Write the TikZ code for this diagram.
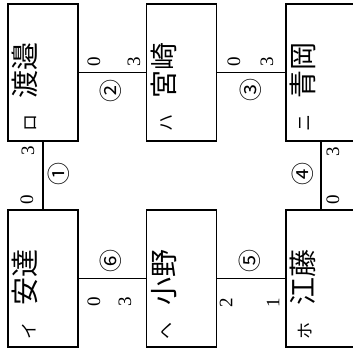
\documentclass[tikz,border=0pt]{standalone}
\usepackage{fontspec}
\setmainfont{Liberation Serif}
\newfontfamily\jp{Noto Sans CJK JP}
\begin{document}
\begin{tikzpicture}[x=1pt,y=-1pt,
  box/.style={draw, line width=1.5pt, minimum width=70pt, minimum height=137pt, inner sep=0pt},
  link/.style={line width=1.5pt},
  kanji/.style={rotate=90, font=\jp\fontsize{28}{28}\selectfont, inner sep=0pt},
  kana/.style={rotate=90, font=\jp\fontsize{17}{17}\selectfont, inner sep=0pt},
  num/.style={rotate=90, font=\fontsize{19}{19}\selectfont, inner sep=0pt},
  circ/.style={rotate=90, font=\jp\fontsize{23}{23}\selectfont, inner sep=0pt}]
\useasboundingbox (0,0) rectangle (353,349);
\clip (0,0) rectangle (353,349);
% boxes
\node[box] (bRo) at (43,72.5) {};
\node[box] (bHa) at (181.5,72.5) {};
\node[box] (bNi) at (321,72.5) {};
\node[box] (bI) at (43,278.5) {};
\node[box] (bHe) at (181.5,278.5) {};
\node[box] (bHo) at (321,278.5) {};
% connectors
\draw[link] (bRo.south) -- (bI.north);
\draw[link] (bRo.east) -- (bHa.west);
\draw[link] (bHa.east) -- (bNi.west);
\draw[link] (bNi.south) -- (bHo.north);
\draw[link] (bI.east) -- (bHe.west);
\draw[link] (bHe.east) -- (bHo.west);
% names
\node[kanji] (tRo) at (25,70) {渡邉};
\node[kanji] (tHa) at (164,70) {宮崎};
\node[kanji] (tNi) at (303,70) {青岡};
\node[kanji] (tI) at (25,277) {安達};
\node[kanji] (tHe) at (164,277) {小野};
\node[kanji] (tHo) at (303,277) {江藤};
\node[kana] (kRo) at (31,123) {ロ};
\node[kana] (kHa) at (167,123) {ハ};
\node[kana] (kNi) at (305,123) {ニ};
\node[kana] (kI) at (29,331) {イ};
\node[kana] (kHe) at (167,331) {ヘ};
\node[kana] (kHo) at (305,331) {ホ};
% circled numbers
\node[circ] (c1) at (59,174) {①};
\node[circ] (c2) at (111,91) {②};
\node[circ] (c3) at (251,90) {③};
\node[circ] (c4) at (303,174) {④};
\node[circ] (c5) at (250,261) {⑤};
\node[circ] (c6) at (111,261) {⑥};
% end digits
\node[num] (d1a) at (28,151) {3};
\node[num] (d1b) at (27,200) {0};
\node[num] (d2a) at (94,62) {0};
\node[num] (d2b) at (134,62) {3};
\node[num] (d3a) at (234,62) {0};
\node[num] (d3b) at (267,62) {3};
\node[num] (d4a) at (333,152) {3};
\node[num] (d4b) at (333,200) {0};
\node[num] (d6a) at (94,302) {0};
\node[num] (d6b) at (125,302) {3};
\node[num] (d5a) at (226,303) {2};
\node[num] (d5b) at (273,303) {1};
\end{tikzpicture}
\end{document}
